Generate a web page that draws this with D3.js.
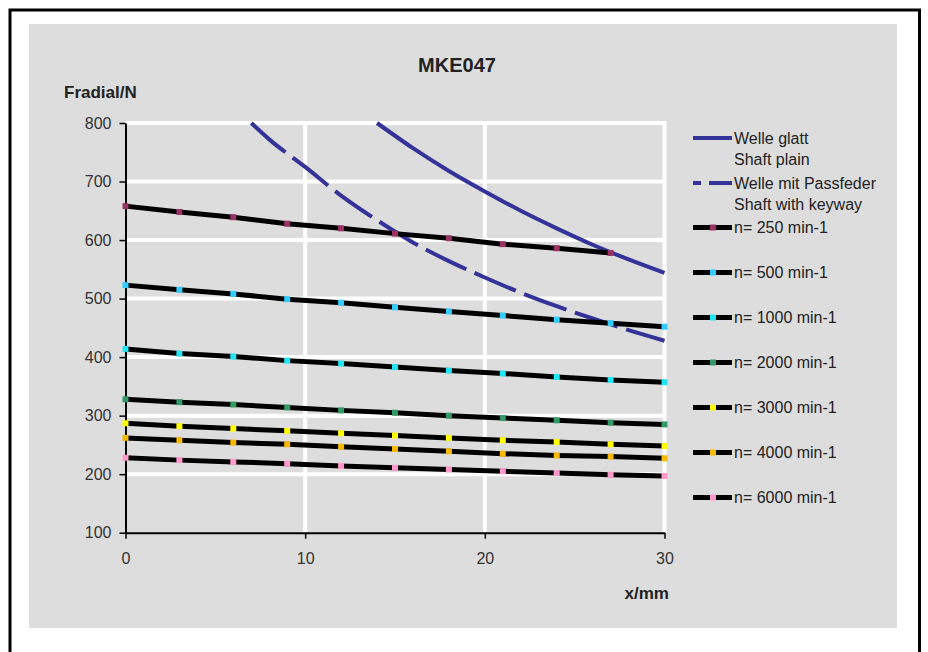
<!DOCTYPE html>
<html>
<head>
<meta charset="utf-8">
<script src="https://cdn.jsdelivr.net/npm/d3@7"></script>
<style>
  body { margin: 0; background: #fff; }
  svg text { font-family: "Liberation Sans", Arial, sans-serif; }
</style>
</head>
<body>
<svg width="928" height="652"></svg>
<script>
// x positions of the measured points (mm)
var xs = [0, 3, 6, 9, 12, 15, 18, 21, 24, 27, 30];

// radial force per speed (N)
var f250  = [658, 648, 639, 628, 620, 611, 603, 593, 586, 578];
var f500  = [523, 515, 508, 499, 493, 485, 478, 471, 464, 458, 452];
var f1000 = [414, 406, 401, 394, 389, 383, 377, 372, 366, 361, 357];
var f2000 = [328, 323, 319, 314, 309, 305, 300, 296, 292, 288, 285];
var f3000 = [287, 282, 278, 274, 270, 266, 262, 258, 255, 251, 248];
var f4000 = [262, 258, 254, 251, 247, 243, 239, 235, 232, 230, 227];
var f6000 = [228, 224, 221, 218, 214, 211, 208, 205, 202, 199, 197];

var speedNames = ["n= 250 min-1", "n= 500 min-1", "n= 1000 min-1", "n= 2000 min-1",
                  "n= 3000 min-1", "n= 4000 min-1", "n= 6000 min-1"];
var speedValues = [f250, f500, f1000, f2000, f3000, f4000, f6000];
var markerColors = ["#993366", "#33ccff", "#22e4f2", "#339966", "#ffff00", "#f7b800", "#ff99cc"];

// shaft limit curves
var plainX = [14, 16, 18, 20, 22, 24, 26, 28, 30];
var plainF = [800, 757, 718, 683, 650, 620, 592, 567, 544];
var keywayX = [7, 8, 10, 12, 14, 16, 18, 20, 22, 24, 26, 28, 30];
var keywayF = [800, 772, 725, 676, 634, 596, 564, 536, 510, 487, 466, 446, 428];

var yTicks = [100, 200, 300, 400, 500, 600, 700, 800];
var xTicks = [0, 10, 20, 30];

var svg = d3.select("svg");

// frame + grey chart area
svg.append("rect")
   .attr("x", 10).attr("y", 10)
   .attr("width", 909.5).attr("height", 670)
   .attr("fill", "#fff").attr("stroke", "#000").attr("stroke-width", 3);
svg.append("rect")
   .attr("x", 29).attr("y", 24)
   .attr("width", 868).attr("height", 604)
   .attr("fill", "#dddddd");

var x = d3.scaleLinear().domain([0, 30]).range([125.5, 664.5]);
var y = d3.scaleLinear().domain([100, 800]).range([532.7, 123]);

// white gridlines
svg.append("g").selectAll("line")
   .data(yTicks.slice(1))
   .enter().append("line")
   .attr("x1", x(0)).attr("x2", x(30))
   .attr("y1", function(d) { return y(d); })
   .attr("y2", function(d) { return y(d); })
   .attr("stroke", "#fff").attr("stroke-width", 4);
svg.append("g").selectAll("line")
   .data(xTicks.slice(1))
   .enter().append("line")
   .attr("x1", function(d) { return x(d); })
   .attr("x2", function(d) { return x(d); })
   .attr("y1", y(800) - 2).attr("y2", y(100))
   .attr("stroke", "#fff").attr("stroke-width", 4);

// axes
var yAxis = svg.append("g")
   .attr("transform", "translate(" + x(0) + ",0)")
   .call(d3.axisLeft(y).tickValues(yTicks).tickSize(6).tickSizeOuter(0).tickPadding(8));
var xAxis = svg.append("g")
   .attr("transform", "translate(0," + y(100) + ")")
   .call(d3.axisBottom(x).tickValues(xTicks).tickSize(6).tickSizeOuter(0).tickPadding(14));
[yAxis, xAxis].forEach(function(a) {
    a.select(".domain").attr("stroke", "#000").attr("stroke-width", 2);
    a.selectAll(".tick line").attr("stroke", "#000").attr("stroke-width", 1.5);
    a.selectAll(".tick text").attr("fill", "#333").style("font-size", "16px");
});

// shaft curves
var curveLine = d3.line()
   .curve(d3.curveMonotoneX)
   .x(function(d) { return x(d[0]); })
   .y(function(d) { return y(d[1]); });

svg.append("path")
   .attr("d", curveLine(d3.zip(plainX, plainF)))
   .attr("fill", "none").attr("stroke", "#333399").attr("stroke-width", 4);
svg.append("path")
   .attr("d", curveLine(d3.zip(keywayX, keywayF)))
   .attr("fill", "none").attr("stroke", "#333399").attr("stroke-width", 4)
   .attr("stroke-dasharray", "45,9");

// speed lines
var line = d3.line()
   .x(function(d) { return x(d[0]); })
   .y(function(d) { return y(d[1]); });

var speeds = speedValues.map(function(v, i) {
    return { name: speedNames[i], color: markerColors[i], values: d3.zip(xs.slice(0, v.length), v) };
});

var speed = svg.selectAll(".speed")
   .data(speeds)
   .enter().append("g")
   .attr("class", "speed");

speed.append("path")
   .attr("d", function(d) { return line(d.values); })
   .attr("fill", "none").attr("stroke", "#000").attr("stroke-width", 5);

speed.selectAll("rect")
   .data(function(d) { return d.values.map(function(p) { return { p: p, color: d.color }; }); })
   .enter().append("rect")
   .attr("x", function(d) { return x(d.p[0]) - 3; })
   .attr("y", function(d) { return y(d.p[1]) - 3; })
   .attr("width", 6).attr("height", 6)
   .attr("fill", function(d) { return d.color; });

// titles
svg.append("text")
   .attr("x", 457).attr("y", 72)
   .attr("text-anchor", "middle")
   .style("font-size", "20px").style("font-weight", "bold")
   .attr("fill", "#222")
   .text("MKE047");
svg.append("text")
   .attr("x", 64).attr("y", 98)
   .style("font-size", "17px").style("font-weight", "bold")
   .attr("fill", "#222")
   .text("Fradial/N");
svg.append("text")
   .attr("x", 669).attr("y", 599)
   .attr("text-anchor", "end")
   .style("font-size", "17px").style("font-weight", "bold")
   .attr("fill", "#222")
   .text("x/mm");

// legend
var legend = svg.append("g");
var lx0 = 693, lx1 = 732, tx = 734;

function legendText(yy, lines) {
    var t = legend.append("text")
       .attr("x", tx).attr("y", yy)
       .attr("dy", "0.35em")
       .attr("fill", "#222")
       .style("font-size", "16px");
    lines.forEach(function(s, i) {
        t.append("tspan").attr("x", tx).attr("dy", i === 0 ? "0.35em" : "21.5px").text(s);
    });
}

legend.append("line")
   .attr("x1", lx0).attr("x2", lx1).attr("y1", 138).attr("y2", 138)
   .attr("stroke", "#333399").attr("stroke-width", 4);
legendText(138, ["Welle glatt", "Shaft plain"]);

legend.append("line")
   .attr("x1", lx0).attr("x2", lx1).attr("y1", 183).attr("y2", 183)
   .attr("stroke", "#333399").attr("stroke-width", 4)
   .attr("stroke-dasharray", "8,8,24");
legendText(183, ["Welle mit Passfeder", "Shaft with keyway"]);

speeds.forEach(function(s, i) {
    var yy = 227.5 + i * 45;
    legend.append("line")
       .attr("x1", lx0).attr("x2", lx1).attr("y1", yy).attr("y2", yy)
       .attr("stroke", "#000").attr("stroke-width", 5);
    legend.append("rect")
       .attr("x", 710).attr("y", yy - 3)
       .attr("width", 6).attr("height", 6)
       .attr("fill", s.color);
    legendText(yy, [s.name]);
});
</script>
</body>
</html>
